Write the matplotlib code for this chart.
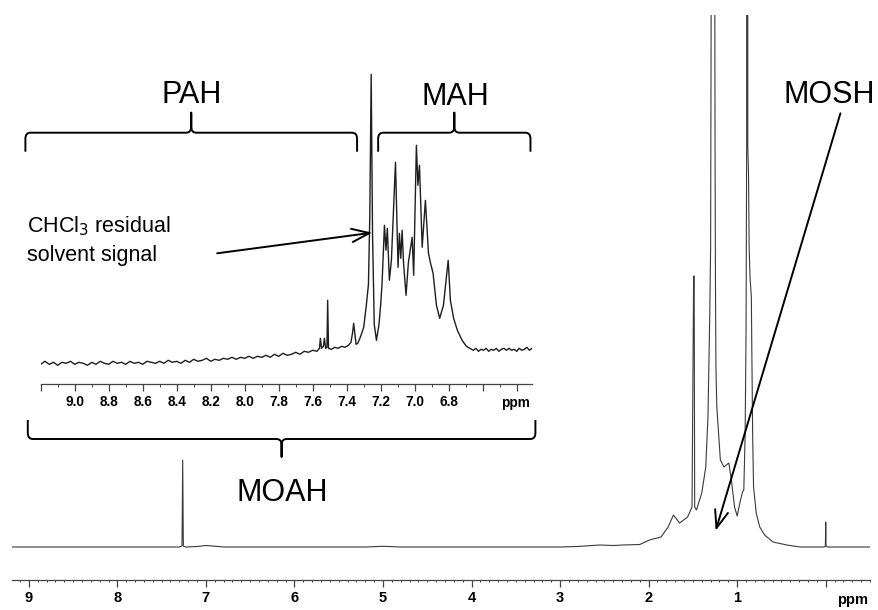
import matplotlib
matplotlib.use("Agg")
import matplotlib.pyplot as plt
from matplotlib.path import Path
from matplotlib.patches import PathPatch
from matplotlib.ticker import MultipleLocator
import numpy as np

plt.rcParams['font.family'] = ['Liberation Sans', 'DejaVu Sans']

# ---------------- data ----------------
# full 1H NMR spectrum (ppm, intensity in arbitrary units; tall peaks go off scale)
main_ppm = [9.19, 7.40, 7.30, 7.27, 7.262, 7.255, 7.23, 7.10, 7.00, 6.90, 6.80,
            5.20, 5.00, 4.80, 3.00, 2.80, 2.55, 2.40, 2.29, 2.10, 1.99, 1.95,
            1.86, 1.78, 1.72, 1.65, 1.56, 1.51, 1.492, 1.486, 1.48, 1.46, 1.40,
            1.355, 1.33, 1.31, 1.30, 1.29, 1.275, 1.26, 1.25, 1.245, 1.24, 1.23,
            1.215, 1.19, 1.15, 1.095, 1.065, 1.03, 1.00, 0.97, 0.94, 0.925,
            0.91, 0.90, 0.893, 0.887, 0.88, 0.872, 0.865, 0.855, 0.84, 0.835,
            0.825, 0.815, 0.785, 0.745, 0.69, 0.595, 0.44, 0.29, 0.02, 0.004,
            0.0, -0.004, -0.02, -0.50]
main_int = [0, 0, 0, 1, 87, 1, 0, 0.5, 1.5, 0.8, 0,
            0, 0.7, 0, 0, 0.5, 2, 1.5, 2, 2.5, 7, 8,
            10, 20, 32, 24, 30, 40, 271, 271, 40, 37, 54,
            80, 130, 230, 300, 700, 5000, 1000, 400, 260, 180, 140,
            120, 87, 80, 84, 67, 40, 31, 44, 55, 57,
            114, 214, 400, 5000, 400, 374, 300, 270, 250, 200,
            110, 60, 34, 20, 12, 5, 2, 0, 0, 1,
            25, 1, 0, 0]

# expanded aromatic region (inset)
inset_ppm = [9.200, 9.175, 9.150, 9.125, 9.100, 9.075, 9.050, 9.025, 9.000, 8.975,
             8.950, 8.925, 8.900, 8.875, 8.850, 8.825, 8.800, 8.775, 8.750, 8.725,
             8.700, 8.675, 8.650, 8.625, 8.600, 8.575, 8.550, 8.525, 8.500, 8.475,
             8.450, 8.425, 8.400, 8.375, 8.350, 8.325, 8.300, 8.275, 8.250, 8.225,
             8.200, 8.175, 8.150, 8.125, 8.100, 8.075, 8.050, 8.025, 8.000, 7.975,
             7.950, 7.925, 7.900, 7.875, 7.850, 7.825, 7.800, 7.775, 7.750, 7.725,
             7.700, 7.675, 7.650, 7.625, 7.600, 7.575,
             7.560, 7.555, 7.548, 7.537, 7.531, 7.524, 7.516, 7.512, 7.507, 7.490,
             7.470, 7.450, 7.430, 7.410, 7.390, 7.375, 7.365, 7.359, 7.352, 7.345,
             7.335, 7.320, 7.300, 7.284, 7.272, 7.264, 7.256, 7.248, 7.238, 7.225,
             7.210, 7.200, 7.192, 7.178, 7.169, 7.161, 7.149, 7.137, 7.113, 7.098,
             7.090, 7.082, 7.074, 7.066, 7.051, 7.037, 7.015, 7.006, 6.990, 6.981,
             6.972, 6.956, 6.937, 6.919, 6.908, 6.892, 6.872, 6.853, 6.831, 6.803,
             6.790, 6.771, 6.749, 6.721, 6.696, 6.655,
             6.640, 6.625, 6.610, 6.595, 6.580, 6.565, 6.550, 6.535, 6.520, 6.505,
             6.490, 6.475, 6.460, 6.445, 6.430, 6.415, 6.400, 6.385, 6.370, 6.355,
             6.340, 6.325, 6.310]
inset_int = [20, 23, 20, 22, 19, 22, 21, 23, 20, 22,
             21, 19, 22, 20, 23, 21, 20, 23, 21, 22,
             20, 23, 21, 22, 20, 23, 22, 21, 23, 21,
             24, 22, 23, 21, 24, 22, 25, 23, 24, 26,
             23, 25, 24, 26, 25, 27, 25, 27, 26, 28,
             26, 28, 27, 29, 27, 30, 28, 31, 29, 30,
             32, 30, 33, 32, 34, 33,
             36, 46, 36, 38, 46, 36, 37, 84, 36, 35,
             37, 36, 38, 37, 39, 42, 52, 61, 50, 40,
             41, 47, 57, 80, 100, 170, 310, 150, 60, 44,
             60, 80, 101, 159, 134, 156, 104, 124, 222, 117,
             151, 126, 154, 122, 89, 122, 147, 109, 239, 199,
             219, 137, 184, 131, 122, 111, 79, 66, 79, 124,
             84, 66, 54, 44, 38, 34,
             36, 33, 35, 34, 36, 33, 35, 34, 36, 33,
             35, 36, 34, 36, 34, 35, 33, 36, 34, 35,
             37, 34, 36]

main_ticks = [9, 8, 7, 6, 5, 4, 3, 2, 1, 0]
main_labels = ['9', '8', '7', '6', '5', '4', '3', '2', '1', '']
inset_ticks = [9.2, 9.0, 8.8, 8.6, 8.4, 8.2, 8.0, 7.8, 7.6, 7.4, 7.2, 7.0, 6.8, 6.6, 6.4]
inset_labels = ['', '9.0', '8.8', '8.6', '8.4', '8.2', '8.0', '7.8', '7.6', '7.4',
                '7.2', '7.0', '6.8', '', '']

# bracket ranges (ppm, inset scale)
pah_range = (9.29, 7.339)
mah_range = (7.215, 6.319)
moah_range = (9.276, 6.290)

# ---------------- figure ----------------
W, H = 879, 610
fig = plt.figure(figsize=(W / 100, H / 100), dpi=100, facecolor='white')

def px_axes(x0, y_top, x1, y_bot):
    return [x0 / W, (H - y_bot) / H, (x1 - x0) / W, (y_bot - y_top) / H]

ax = fig.add_axes(px_axes(12, 15, 870, 579.5))
ax.plot(main_ppm, main_int, color='#3a3a3a', lw=0.8)
ax.set_xlim(9.19, -0.50)
ax.set_ylim(-32.5, 532)
for s in ['left', 'top', 'right']:
    ax.spines[s].set_visible(False)
ax.spines['bottom'].set_color('#444444')
ax.spines['bottom'].set_linewidth(0.9)
ax.set_yticks([])
ax.set_xticks(main_ticks)
ax.set_xticklabels(main_labels, fontsize=10.5, fontweight='bold')
ax.xaxis.set_minor_locator(MultipleLocator(0.1))
ax.tick_params(axis='x', which='major', length=4.7, width=0.9, color='#444444', pad=3.3)
ax.tick_params(axis='x', which='minor', length=1.6, width=0.7, color='#444444')
ax.text(-0.305, -0.036, 'ppm', transform=ax.get_xaxis_transform(), ha='center',
        va='center', fontsize=10.5, fontweight='bold')
ax.set_facecolor('none')

# inset
ai = fig.add_axes(px_axes(40.7, 60, 532, 384.3))
ai.plot(inset_ppm, inset_int, color='#1e1e1e', lw=1.0)
ai.set_xlim(9.2, 6.31)
ai.set_ylim(0, 324.3)
ai.set_facecolor('none')
for s in ['left', 'top', 'right']:
    ai.spines[s].set_visible(False)
ai.spines['bottom'].set_color('#444444')
ai.spines['bottom'].set_linewidth(0.9)
ai.set_yticks([])
ai.set_xticks(inset_ticks)
ai.set_xticklabels(inset_labels, fontsize=9.8, fontweight='bold')
ai.xaxis.set_minor_locator(MultipleLocator(0.1))
ai.tick_params(axis='x', which='major', length=4.8, width=0.9, color='#444444', pad=3.1)
ai.tick_params(axis='x', which='minor', length=2.0, width=0.7, color='#444444')
ai.text(6.408, -0.058, 'ppm', transform=ai.get_xaxis_transform(), ha='center',
        va='center', fontsize=9.8, fontweight='bold')


def brace(axh, x0, x1, y_line, y_end, y_tip, rx, ry):
    xm = (x0 + x1) / 2.0
    sx = np.sign(x1 - x0)
    e = np.sign(y_end - y_line)
    t = np.sign(y_tip - y_line)
    verts = [(x0, y_end), (x0, y_line + e * ry), (x0, y_line), (x0 + sx * rx, y_line),
             (xm - sx * rx, y_line), (xm, y_line), (xm, y_line + t * ry), (xm, y_tip),
             (xm, y_line + t * ry), (xm, y_line), (xm + sx * rx, y_line),
             (x1 - sx * rx, y_line), (x1, y_line), (x1, y_line + e * ry), (x1, y_end)]
    codes = [Path.MOVETO, Path.LINETO, Path.CURVE3, Path.CURVE3,
             Path.LINETO, Path.CURVE3, Path.CURVE3, Path.LINETO,
             Path.LINETO, Path.CURVE3, Path.CURVE3,
             Path.LINETO, Path.CURVE3, Path.CURVE3, Path.LINETO]
    p = PathPatch(Path(verts, codes), fill=False, lw=1.4, edgecolor='black',
                  transform=axh.transData, clip_on=False, capstyle='butt',
                  joinstyle='round')
    axh.add_patch(p)

brace(ai, pah_range[0], pah_range[1], 251.6, 232.6, 271.6, 0.03, 6)
brace(ai, mah_range[0], mah_range[1], 251.6, 232.6, 271.6, 0.03, 6)
brace(ai, moah_range[0], moah_range[1], -54.7, -35.7, -72.4, 0.03, 6)

ai.text(8.313, 289, 'PAH', fontsize=22, ha='center', va='center', clip_on=False)
ai.text(6.76, 287, 'MAH', fontsize=22, ha='center', va='center', clip_on=False)
ai.text(7.78, -109, 'MOAH', fontsize=22, ha='center', va='center', clip_on=False)
ai.text(9.278, 158, 'CHCl$_3$ residual', fontsize=15.5, ha='left', va='center',
        clip_on=False)
ai.text(9.278, 129, 'solvent signal', fontsize=15.5, ha='left', va='center',
        clip_on=False)
ai.annotate('', xy=(7.25, 151.6), xytext=(8.162, 131),
            arrowprops=dict(arrowstyle='->,head_length=0.85,head_width=0.32',
                            lw=1.4, color='black', shrinkA=0, shrinkB=0,
                            mutation_scale=15), annotation_clip=False)

ax.text(-0.045, 452, 'MOSH', fontsize=22, ha='center', va='center', clip_on=False)
ax.annotate('', xy=(1.243, 16.3), xytext=(-0.166, 433.7),
            arrowprops=dict(arrowstyle='->,head_length=0.85,head_width=0.32',
                            lw=1.4, color='black', shrinkA=0, shrinkB=0,
                            mutation_scale=15), annotation_clip=False)

fig.savefig('out.png', dpi=100, facecolor='white')
